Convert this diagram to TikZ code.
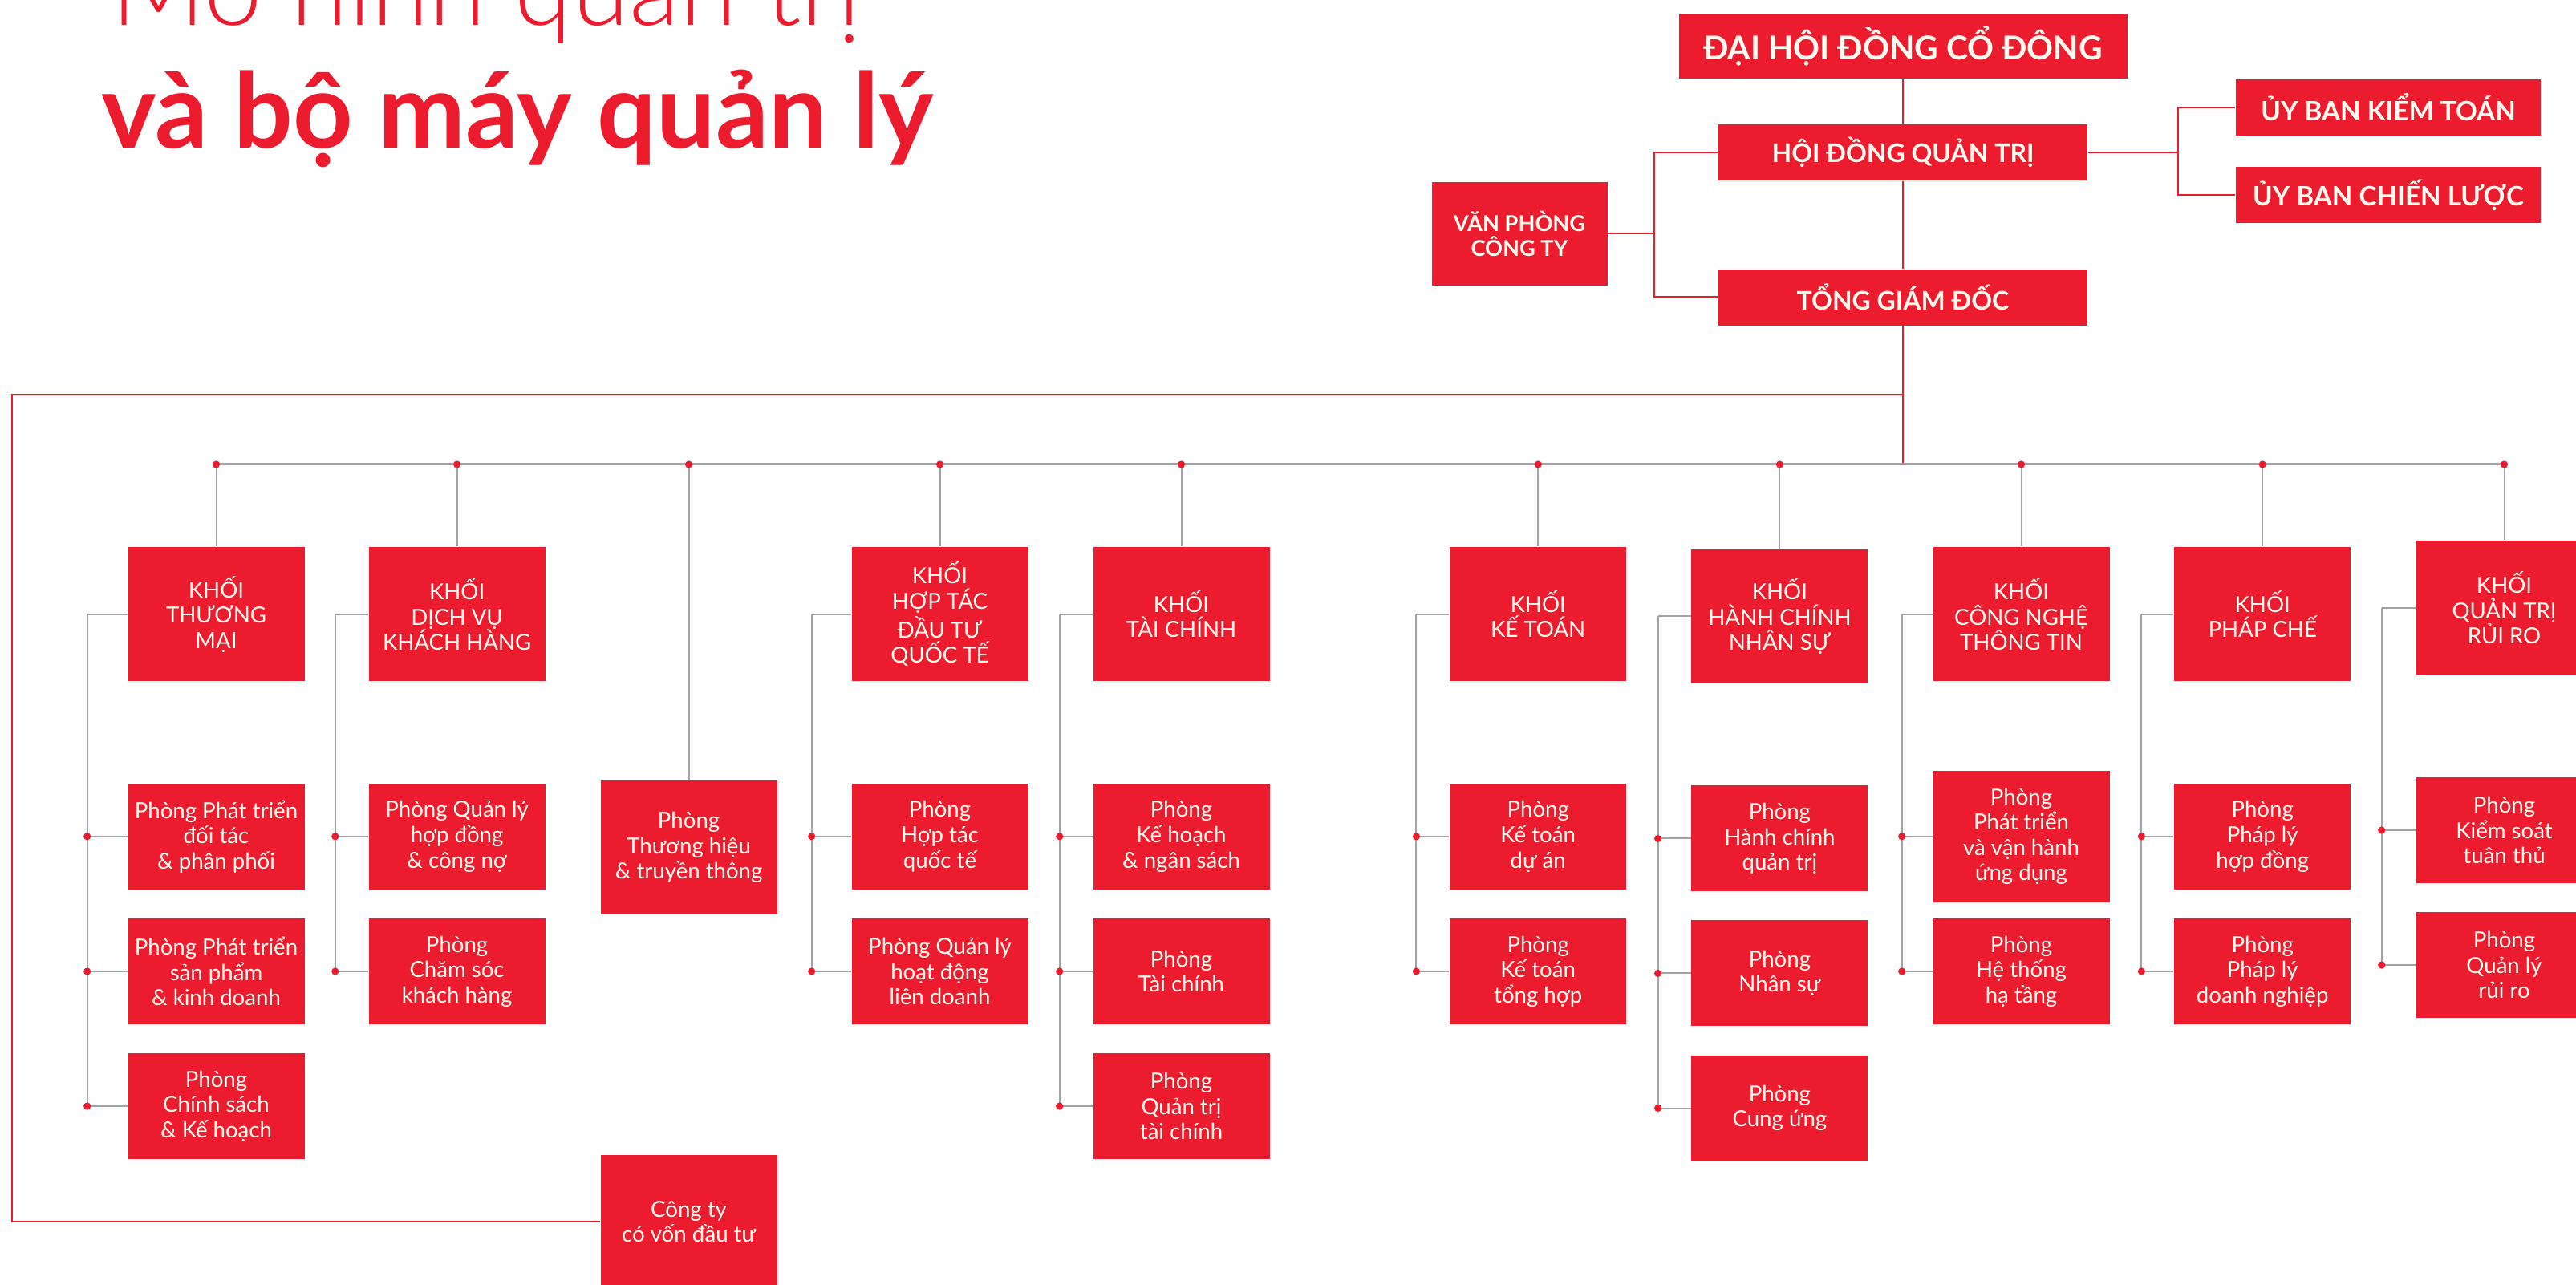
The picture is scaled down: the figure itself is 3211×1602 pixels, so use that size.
\documentclass[tikz,border=0pt]{standalone}
\usepackage{fontspec}
\setmainfont{Lato}
\newfontfamily\latolight{Lato Light}
\definecolor{vred}{HTML}{EC1C2E}
\definecolor{lgray}{HTML}{A3A3A3}
\definecolor{ltext}{HTML}{FFF9F0}
\begin{document}
\begin{tikzpicture}[x=0.25pt,y=-0.25pt,
 box/.style={fill=vred, text=ltext, align=center, inner sep=0pt, font=\fontsize{6.9pt}{7.9pt}\selectfont},
 kbox/.style={box, minimum width=55pt, minimum height=41.75pt},
 pbox/.style={box, minimum width=55pt, minimum height=33pt},
 topbox/.style={box, font=\bfseries\fontsize{8pt}{9pt}\selectfont},
 redline/.style={draw=vred, line width=0.6pt},
 grayline/.style={draw=lgray, line width=0.5pt},
 dot/.style={circle, fill=vred, inner sep=0pt, minimum size=2.3pt},
]
\useasboundingbox (0,0) rectangle (3211,1602);
\clip (0,0) rectangle (3211,1602);
\fill[white] (0,0) rectangle (3211,1602);

% title
\node[anchor=base west, inner sep=0pt, text=vred, font=\latolight\fontsize{32.5pt}{36pt}\selectfont] (title1) at (138,31.7) {Mô hình quản trị};
\node[anchor=base west, inner sep=0pt, text=vred, font=\bfseries\fontsize{32.5pt}{36pt}\selectfont] (title2) at (126,185) {và bộ máy quản lý};

% top boxes
\node[topbox, font=\bfseries\fontsize{10.2pt}{11pt}\selectfont, minimum width=139.75pt, minimum height=20.4pt] (dhcd) at (2372,57.5) {ĐẠI HỘI ĐỒNG CỔ ĐÔNG};
\node[topbox, minimum width=115pt, minimum height=17.5pt] (hdqt) at (2372,190) {HỘI ĐỒNG QUẢN TRỊ};
\node[topbox, minimum width=115pt, minimum height=17.5pt] (tgd) at (2372,370.7) {TỔNG GIÁM ĐỐC};
\node[topbox, font=\bfseries\fontsize{6.8pt}{7.9pt}\selectfont, minimum width=54.75pt, minimum height=32.3pt] (vp) at (1894,291.3) {VĂN PHÒNG\\CÔNG TY};
\node[topbox, font=\bfseries\fontsize{8.3pt}{9pt}\selectfont, minimum width=95pt, minimum height=17.6pt] (ubkt) at (2977,134) {ỦY BAN KIỂM TOÁN};
\node[topbox, font=\bfseries\fontsize{8.3pt}{9pt}\selectfont, minimum width=95pt, minimum height=17.6pt] (ubcl) at (2977,243) {ỦY BAN CHIẾN LƯỢC};

% KHOI boxes
\node[kbox] (k1) at (269.5,765.7) {KHỐI\\THƯƠNG\\MẠI};
\node[kbox] (k2) at (569.6,765.7) {KHỐI\\DỊCH VỤ\\KHÁCH HÀNG};
\node[kbox] (p3) at (858.6,1056.5) {Phòng\\Thương hiệu\\\& truyền thông};
\node[kbox] (k4) at (1171.5,765.7) {KHỐI\\HỢP TÁC\\ĐẦU TƯ\\QUỐC TẾ};
\node[kbox] (k5) at (1472.5,765.7) {KHỐI\\TÀI CHÍNH};
\node[kbox] (k6) at (1917.2,765.7) {KHỐI\\KẾ TOÁN};
\node[kbox] (k7) at (2218.4,768.3) {KHỐI\\HÀNH CHÍNH\\NHÂN SỰ};
\node[kbox] (k8) at (2519.5,765.7) {KHỐI\\CÔNG NGHỆ\\THÔNG TIN};
\node[kbox] (k9) at (2820.2,765.7) {KHỐI\\PHÁP CHẾ};
\node[kbox] (k10) at (3121.5,757.7) {KHỐI\\QUẢN TRỊ\\RỦI RO};
\node[kbox] (cty) at (858.6,1523) {Công ty\\có vốn đầu tư};

% child boxes
\node[pbox] (c1a) at (269.5,1042.8) {Phòng Phát triển\\đối tác\\\& phân phối};
\node[pbox] (c1b) at (269.5,1211) {Phòng Phát triển\\sản phẩm\\\& kinh doanh};
\node[pbox] (c1c) at (269.5,1379) {Phòng\\Chính sách\\\& Kế hoạch};
\node[pbox] (c2a) at (569.6,1042.8) {Phòng Quản lý\\hợp đồng\\\& công nợ};
\node[pbox] (c2b) at (569.6,1211) {Phòng\\Chăm sóc\\khách hàng};
\node[pbox] (c4a) at (1171.5,1042.8) {Phòng\\Hợp tác\\quốc tế};
\node[pbox] (c4b) at (1171.5,1211) {Phòng Quản lý\\hoạt động\\liên doanh};
\node[pbox] (c5a) at (1472.5,1042.8) {Phòng\\Kế hoạch\\\& ngân sách};
\node[pbox] (c5b) at (1472.5,1211) {Phòng\\Tài chính};
\node[pbox] (c5c) at (1472.5,1379) {Phòng\\Quản trị\\tài chính};
\node[pbox] (c6a) at (1917.2,1042.8) {Phòng\\Kế toán\\dự án};
\node[pbox] (c6b) at (1917.2,1211) {Phòng\\Kế toán\\tổng hợp};
\node[pbox] (c7a) at (2218.4,1045.5) {Phòng\\Hành chính\\quản trị};
\node[pbox] (c7b) at (2218.4,1213.4) {Phòng\\Nhân sự};
\node[pbox] (c7c) at (2218.4,1381.5) {Phòng\\Cung ứng};
\node[pbox, minimum height=41pt] (c8a) at (2519.5,1042.8) {Phòng\\Phát triển\\và vận hành\\ứng dụng};
\node[pbox] (c8b) at (2519.5,1211) {Phòng\\Hệ thống\\hạ tầng};
\node[pbox] (c9a) at (2820.2,1042.8) {Phòng\\Pháp lý\\hợp đồng};
\node[pbox] (c9b) at (2820.2,1211) {Phòng\\Pháp lý\\doanh nghiệp};
\node[pbox] (c10a) at (3121.5,1035) {Phòng\\Kiểm soát\\tuân thủ};
\node[pbox] (c10b) at (3121.5,1203) {Phòng\\Quản lý\\rủi ro};

% coordinates
\coordinate (bus) at (0,579);
\coordinate (loopy) at (0,492);
\coordinate (lb) at (2062,290);
\coordinate (rb) at (2715,190);
\coordinate (lc) at (15,1000);

% top red connectors
\draw[redline] (dhcd.south) -- (hdqt.north);
\draw[redline] (hdqt.south) -- (tgd.north);
\draw[redline] (tgd.south) -- (tgd.south |- bus);
\draw[redline] (hdqt.west) -| (lb) |- (tgd.west);
\draw[redline] (vp.east) -- (vp.east -| lb);
\draw[redline] (hdqt.east) -- (hdqt.east -| rb);
\draw[redline] (ubkt.west) -| (rb) |- (ubcl.west);
\draw[redline] (tgd.south |- loopy) -| (lc) |- (cty.west);

% bus
\draw[grayline, line width=0.75pt] (k1.north |- bus) -- (k10.north |- bus);
\foreach \n in {k1,k2,p3,k4,k5,k6,k7,k8,k9,k10} {
  \draw[grayline] (\n.north |- bus) -- (\n.north);
}
\foreach \n in {k1,k2,p3,k4,k5,k6,k7,k8,k9,k10} {
  \node[dot] at (\n.north |- bus) {};
}

% branches
\foreach \k/\off/\kids in {k1/50/{c1a,c1b,c1c}, k2/41/{c2a,c2b}, k4/49/{c4a,c4b}, k5/41/{c5a,c5b,c5c}, k6/41/{c6a,c6b}, k7/41/{c7a,c7b,c7c}, k8/38/{c8a,c8b}, k9/40/{c9a,c9b}, k10/42/{c10a,c10b}} {
  \draw[grayline] (\k.west) -- ++(-\off,0) coordinate (b\k);
  \foreach \c in \kids {
    \draw[grayline] (b\k) |- (\c.west);
  }
  \foreach \c in \kids {
    \node[dot] at (b\k |- \c.west) {};
  }
}
\end{tikzpicture}
\end{document}
